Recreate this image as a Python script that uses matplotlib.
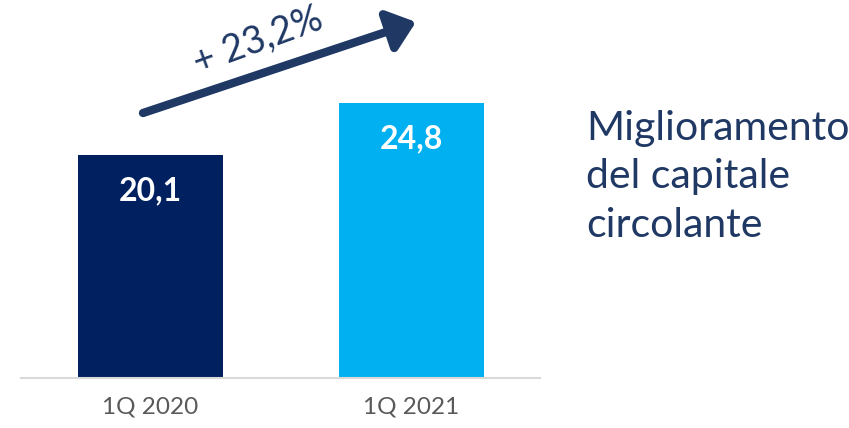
import matplotlib
matplotlib.use("Agg")
import matplotlib.pyplot as plt

categories = ["1Q 2020", "1Q 2021"]
values = [20.1, 24.8]
value_labels = ["20,1", "24,8"]
bar_colors = ["#002060", "#00B0F0"]
growth_label = "+ 23,2%"
side_text = "Miglioramento\ndel capitale\ncircolante"

plt.rcParams['font.family'] = ['Lato', 'DejaVu Sans']

W, H = 849, 428
fig = plt.figure(figsize=(W / 100, H / 100), dpi=100)

# axes: baseline at y=378 px, from x=21 to x=540
ax = fig.add_axes([21 / W, (H - 378) / H, (540 - 21) / W, 378 / H])
px_per_unit = (378 - 155) / values[0]
ax.set_ylim(0, 378 / px_per_unit)
c1, c2 = 150.5, 411.0
step = c2 - c1
ax.set_xlim((21 - c1) / step, 1 + (540 - c2) / step)
width = 145 / step

x = list(range(len(categories)))
bars = ax.bar(x, values, width=width, color=bar_colors, zorder=2)
for xi, v, lab in zip(x, values, value_labels):
    ax.text(xi, v - 36 / px_per_unit, lab, ha='center', va='center',
            color='white', fontsize=23, fontweight='bold')

for s in ['top', 'right', 'left']:
    ax.spines[s].set_visible(False)
ax.spines['bottom'].set_color('#D9D9D9')
ax.spines['bottom'].set_linewidth(1.5)
ax.set_yticks([])
ax.set_xticks(x)
ax.set_xticklabels(categories, fontsize=17.5, color='#595959')
ax.tick_params(axis='x', length=0, pad=13)

# growth arrow (figure pixel coords)
def fp(px, py):
    return (px / W, 1 - py / H)

arrow = matplotlib.patches.FancyArrowPatch(
    fp(143, 113), fp(416, 22), transform=fig.transFigure,
    arrowstyle='-|>,head_length=10,head_width=8', mutation_scale=1.6,
    color='#1F3864', linewidth=6, shrinkA=0, shrinkB=0)
fig.patches.append(arrow)
fig.text(*fp(258, 41), growth_label, rotation=20, ha='center', va='center',
         fontsize=27, color='#1F3864', rotation_mode='anchor')

fig.text(*fp(586, 177), side_text, ha='left', va='center', fontsize=29.5,
         color='#1F3864', linespacing=1.38)

fig.savefig("out.png", dpi=100)
